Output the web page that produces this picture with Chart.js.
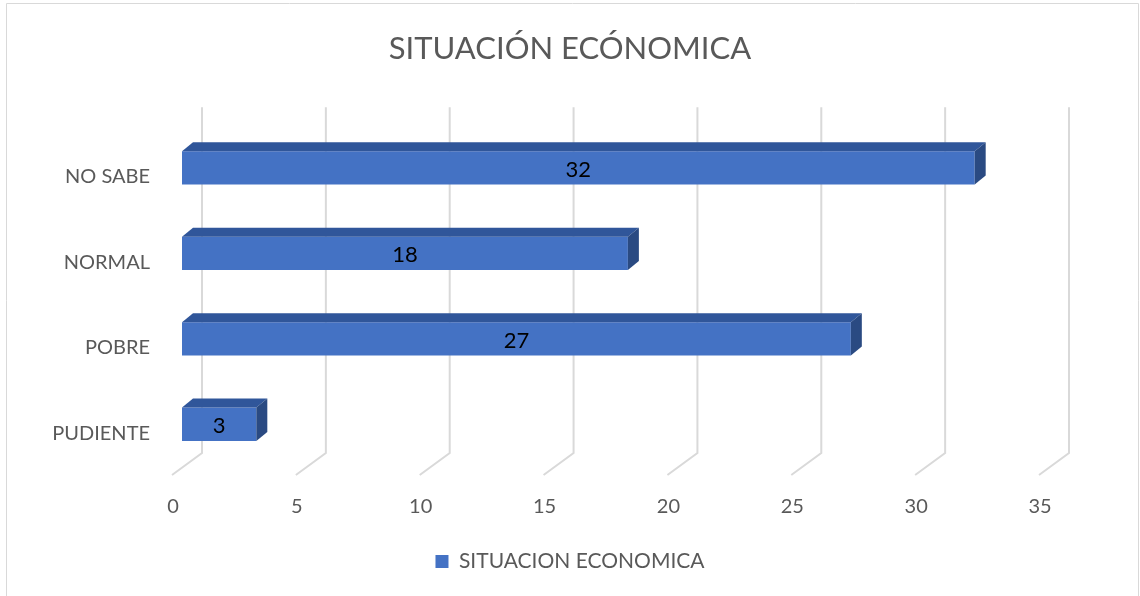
<!DOCTYPE html>
<html lang="es">
<head>
    <meta charset="UTF-8">
    <title>Situación Ecónomica</title>
    <style>
        body {
            margin: 0;
            background-color: #ffffff;
        }
        .chart-box {
            position: absolute;
            left: 0;
            top: 0;
            width: 1140px;
            height: 596px;
        }
    </style>
</head>
<body>
<div class="chart-box">
    <canvas id="chart1"></canvas>
</div>

<script src="https://cdn.jsdelivr.net/npm/chart.js"></script>
<script>
    const categorias = ['NO SABE', 'NORMAL', 'POBRE', 'PUDIENTE'];
    const valores = [32, 18, 27, 3];
    const serieNombre = 'SITUACION ECONOMICA';
    const titulo = 'SITUACIÓN ECÓNOMICA';
    const ejeMax = 35;
    const ejePaso = 5;

    const textColor = '#595959';
    const fontName = 'Lato, "Liberation Sans", sans-serif';

    // marco del grafico (abajo queda fuera de la imagen)
    const marco = {
        id: 'marco',
        beforeDraw(chart) {
            const ctx = chart.ctx;
            ctx.save();
            ctx.strokeStyle = '#d9d9d9';
            ctx.lineWidth = 1;
            ctx.beginPath();
            ctx.moveTo(6.5, 600);
            ctx.lineTo(6.5, 3.5);
            ctx.lineTo(1138.5, 3.5);
            ctx.lineTo(1138.5, 600);
            ctx.stroke();
            ctx.restore();
        }
    };

    // pared del fondo y piso en 3D
    const pared = {
        id: 'pared',
        beforeDatasetsDraw(chart) {
            const ctx = chart.ctx;
            const x = chart.scales.x;
            const area = chart.chartArea;
            ctx.save();
            ctx.strokeStyle = '#d9d9d9';
            ctx.lineWidth = 2;
            for (let v = 0; v <= ejeMax; v += ejePaso) {
                const px = x.getPixelForValue(v);
                ctx.beginPath();
                ctx.moveTo(px + 20, area.top - 18);
                ctx.lineTo(px + 20, area.bottom - 14);
                ctx.lineTo(px - 10, area.bottom + 8);
                ctx.stroke();
            }
            ctx.restore();
        }
    };

    // caras de las barras y etiquetas
    const barras3d = {
        id: 'barras3d',
        afterDatasetsDraw(chart) {
            const ctx = chart.ctx;
            const dx = 11, dy = 9;
            const meta = chart.getDatasetMeta(0);
            ctx.save();
            meta.data.forEach((bar, i) => {
                const top = bar.y - bar.height / 2;
                const bottom = bar.y + bar.height / 2;
                ctx.fillStyle = '#30569a';
                ctx.beginPath();
                ctx.moveTo(bar.base, top);
                ctx.lineTo(bar.base + dx, top - dy);
                ctx.lineTo(bar.x + dx, top - dy);
                ctx.lineTo(bar.x, top);
                ctx.closePath();
                ctx.fill();
                ctx.fillStyle = '#2a4a82';
                ctx.beginPath();
                ctx.moveTo(bar.x, top);
                ctx.lineTo(bar.x + dx, top - dy);
                ctx.lineTo(bar.x + dx, bottom - dy);
                ctx.lineTo(bar.x, bottom);
                ctx.closePath();
                ctx.fill();

                ctx.fillStyle = '#000000';
                ctx.font = '22px ' + fontName;
                ctx.textAlign = 'center';
                ctx.textBaseline = 'middle';
                ctx.fillText(String(valores[i]), (bar.base + bar.x) / 2, bar.y + 2);
            });
            ctx.restore();
        }
    };

    new Chart(document.getElementById('chart1'), {
        type: 'bar',
        data: {
            labels: categorias,
            datasets: [{
                label: serieNombre,
                data: valores,
                backgroundColor: '#4472c4',
                borderWidth: 0,
                barPercentage: 0.78,
                categoryPercentage: 0.5
            }]
        },
        options: {
            indexAxis: 'y',
            responsive: true,
            maintainAspectRatio: false,
            animation: false,
            layout: {
                padding: { top: 30, right: 0, bottom: 14, left: 0 }
            },
            scales: {
                x: {
                    min: 0,
                    max: ejeMax,
                    grid: { display: false, drawTicks: false },
                    border: { display: false },
                    ticks: {
                        stepSize: ejePaso,
                        color: textColor,
                        font: { family: fontName, size: 20 },
                        padding: 28,
                        labelOffset: -9
                    },
                    afterFit: (s) => { s.height = 75; }
                },
                y: {
                    grid: { display: false, drawTicks: false },
                    border: { display: false },
                    ticks: {
                        color: textColor,
                        font: { family: fontName, size: 20 },
                        padding: 32,
                        labelOffset: 9
                    },
                    afterFit: (s) => { s.width = 182; }
                },
                // espacio a la derecha sin marcas
                derecha: {
                    type: 'linear',
                    position: 'right',
                    grid: { display: false, drawTicks: false },
                    border: { display: false },
                    ticks: { display: false },
                    afterFit: (s) => { s.width = 91; }
                }
            },
            plugins: {
                title: {
                    display: true,
                    text: titulo,
                    color: textColor,
                    font: { family: fontName, size: 31, weight: 'normal' },
                    padding: { top: 0, bottom: 58 }
                },
                legend: {
                    position: 'bottom',
                    labels: {
                        color: textColor,
                        font: { family: fontName, size: 21 },
                        boxWidth: 13,
                        boxHeight: 13,
                        padding: 9
                    }
                },
                tooltip: { enabled: false }
            }
        },
        plugins: [marco, pared, barras3d]
    });
</script>
</body>
</html>
